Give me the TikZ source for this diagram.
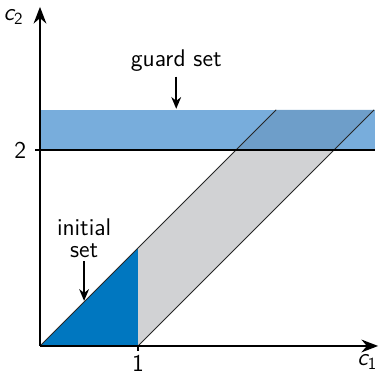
\documentclass[tikz,border=0pt]{standalone}
\usepackage{tikz}
\usetikzlibrary{arrows.meta,positioning}
\definecolor{guardblue}{RGB}{120,173,220}
\definecolor{overlapblue}{RGB}{110,158,201}
\definecolor{reachgray}{RGB}{209,210,212}
\definecolor{initblue}{RGB}{0,119,192}
\tikzset{
  axis/.style={line width=1.3pt, -{Stealth[length=3.4mm,width=2.6mm]}},
  lbl/.style={font=\sffamily\fontsize{14}{12.5}\selectfont, inner sep=1pt, align=center},
  pointer/.style={line width=1pt, -{Stealth[length=2.4mm,width=2mm]}},
  bound/.style={line width=0.5pt, black!85},
  tick/.style={line width=1.1pt}
}
\begin{document}
\begin{tikzpicture}[x=2cm,y=2cm]
  \useasboundingbox (-0.408,-0.296) rectangle (3.459,3.53);
  % regions
  \fill[guardblue] (0,2) rectangle (3.42,2.41);
  \fill[reachgray] (1,0) -- (1,1) -- (2,2) -- (3,2) -- cycle;
  \fill[overlapblue] (2,2) -- (2.41,2.41) -- (3.41,2.41) -- (3,2) -- cycle;
  \fill[initblue] (0,0) -- (1,0) -- (1,1) -- cycle;
  \draw[bound] (0,0) -- (2.41,2.41);
  \draw[bound] (1,0) -- (3.41,2.41);
  \draw[tick] (0,2) -- (3.42,2);

  % axes
  \coordinate (O) at (0,0);
  \coordinate (xtip) at (3.45,0);
  \coordinate (ytip) at (0,3.46);
  \draw[axis] (O) -- (xtip);
  \draw[axis] (O) -- (ytip);
  \draw[tick] (1,0) -- (1,-0.05);
  \draw[tick] (0,2) -- (-0.05,2);
  \node[lbl] (one) at (1,-0.18) {1};
  \node[lbl] (two) at (-0.2,2) {2};
  \node[lbl] (cone) at (3.34,-0.16) {{\itshape c}\textsubscript{1}};
  \node[lbl] (ctwo) at (-0.27,3.36) {{\itshape c}\textsubscript{2}};

  % labels
  \node[lbl] (guard) at (1.39,2.91) {guard set};
  \coordinate (gtop) at (1.39,2.42);
  \draw[pointer] (guard.south) ++(0,-0.03) coordinate (gs) (gs) -- (gtop);
  \node[lbl] (init) at (0.45,1.1) {initial\\set};
  \coordinate (idiag) at (0.45,0.46);
  \draw[pointer] (init.south) ++(0,-0.02) coordinate (is) (is) -- (idiag);
\end{tikzpicture}
\end{document}
